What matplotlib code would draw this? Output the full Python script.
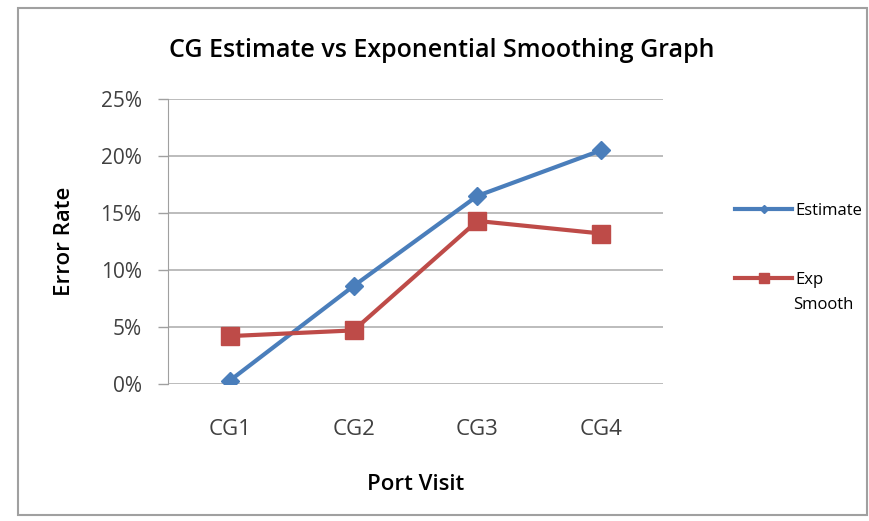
import matplotlib.pyplot as plt
from matplotlib.patches import Rectangle
from matplotlib.ticker import PercentFormatter

plt.rcParams['font.family'] = ['Open Sans', 'DejaVu Sans']

categories = ['CG1', 'CG2', 'CG3', 'CG4']
estimate = [0.3, 8.6, 16.5, 20.5]
exp_smooth = [4.2, 4.7, 14.3, 13.2]
yticks = [0, 5, 10, 15, 20, 25]

fig = plt.figure(figsize=(8.7, 5.21), dpi=100)
ax = fig.add_axes([0.1931, 0.263, 0.569, 0.547])

x = range(len(categories))
ax.plot(x, estimate, color='#4a7ebb', lw=3, marker='D', ms=9, label='Estimate')
ax.plot(x, exp_smooth, color='#be4b48', lw=3, marker='s', ms=13, label='Exp')

ax.set_xlim(-0.5, 3.5)
ax.set_ylim(0, 25)
ax.set_yticks(yticks)
ax.yaxis.set_major_formatter(PercentFormatter(decimals=0))
ax.set_xticks(list(x))
ax.set_xticklabels(categories)
ax.grid(axis='y', color='#b0b0b0', lw=1.2)
ax.set_axisbelow(True)
for s in ['top', 'right', 'bottom']:
    ax.spines[s].set_visible(False)
ax.spines['left'].set_color('#a0a0a0')
ax.tick_params(axis='x', length=0, labelsize=16, colors='#404040', pad=25)
ax.tick_params(axis='y', length=7, width=1, color='#a0a0a0', labelsize=15,
               labelcolor='#404040', pad=12)

ax.set_title('CG Estimate vs Exponential Smoothing Graph', fontsize=18,
             fontweight='semibold', pad=30, x=0.554)
ax.set_xlabel('Port Visit', fontsize=16, fontweight='semibold', labelpad=25)
ax.set_ylabel('Error Rate', fontsize=16, fontweight='semibold', labelpad=18)

leg = fig.legend(loc='upper left', bbox_to_anchor=(0.828, 0.64), frameon=False,
                 fontsize=12, labelspacing=3.2, handlelength=3.4, handletextpad=0.2,
                 markerscale=0.5)
fig.text(0.912, 0.414, 'Smooth', fontsize=12, ha='left', va='center')

fig.patches.append(Rectangle((0.021, 0.012), 0.975, 0.973, transform=fig.transFigure,
                             fill=False, ec='#a0a0a0', lw=1.5))

fig.savefig('out.png', dpi=100)
